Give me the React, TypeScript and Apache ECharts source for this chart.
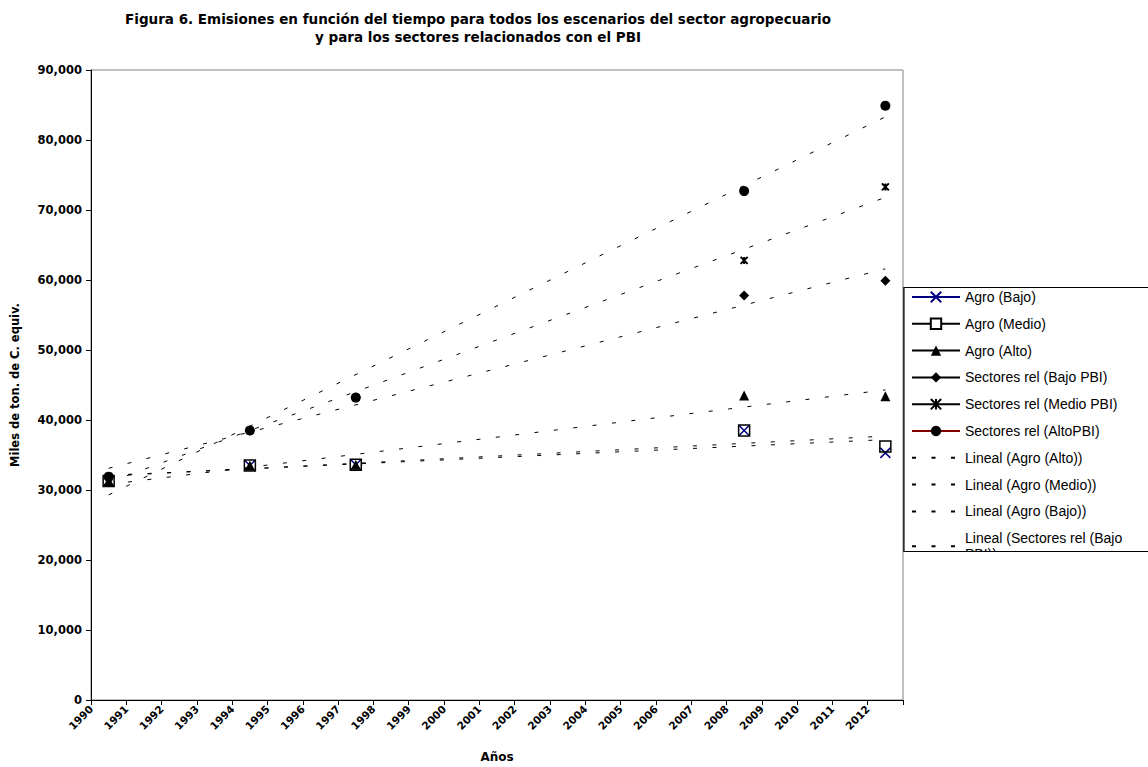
import React, { useEffect, useRef } from "react";
import * as echarts from "echarts";

const yearLabels = [
  "1990", "1991", "1992", "1993", "1994", "1995", "1996", "1997", "1998", "1999", "2000", "2001",
  "2002", "2003", "2004", "2005", "2006", "2007", "2008", "2009", "2010", "2011", "2012",
];

const pointYears = ["1990", "1994", "1997", "2008", "2012"];
const agroBajo = [31300, 33500, 33600, 38500, 35300];
const agroMedio = [31300, 33500, 33600, 38500, 36200];
const agroAlto = [31300, 33500, 33600, 43500, 43400];
const sectoresBajo = [31900, 38500, 43200, 57800, 59900];
const sectoresMedio = [31900, 38500, 43200, 62800, 73300];
const sectoresAlto = [31900, 38500, 43200, 72700, 84900];

const trendYears = ["1990", "2012"];
const trendAgroAlto = [30800, 44300];
const trendAgroMedio = [32000, 37700];
const trendAgroBajo = [32100, 37200];
const trendSectoresBajo = [33100, 61600];
const trendSectoresMedio = [31100, 71800];
const trendSectoresAlto = [29300, 83300];

const yMin = 0;
const yMax = 90000;
const yStep = 10000;

const FONT = "'Liberation Sans', Arial, sans-serif";
const WIDE = "'DejaVu Sans', 'Liberation Sans', sans-serif";

function fullSeries(years: string[], values: number[]) {
  return yearLabels.map((y) => {
    const i = years.indexOf(y);
    return i >= 0 ? values[i] : null;
  });
}

function pairs(years: string[], values: number[]) {
  return years.map((y, i) => [y, values[i]]);
}

const X_PATH = "path://M0,0L10,10M10,0L0,10";
const STAR_PATH = "path://M0,0L10,10M10,0L0,10M5,0L5,10";

export default function App() {
  const ref = useRef<HTMLDivElement>(null);

  useEffect(() => {
    if (!ref.current) return;
    const chart = echarts.init(ref.current, undefined, { renderer: "svg" });

    const markerSeries = (
      name: string,
      values: number[],
      symbol: string,
      size: number,
      itemStyle: any,
      lineColor: string
    ) => ({
      name,
      type: "line",
      data: fullSeries(pointYears, values),
      connectNulls: false,
      symbol,
      symbolSize: size,
      showSymbol: true,
      showAllSymbol: true,
      itemStyle,
      lineStyle: { color: lineColor, width: 1.5 },
      emphasis: { disabled: true },
      z: 3,
    });

    const trendSeries = (name: string, values: number[]) => ({
      name,
      type: "line",
      xAxisIndex: 0,
      data: pairs(trendYears, values),
      symbol: "circle",
      showSymbol: false,
      itemStyle: { color: "rgba(0,0,0,0)", borderWidth: 0 },
      lineStyle: { color: "#000", width: 1, type: [4, 15.5] },
      emphasis: { disabled: true },
      z: 2,
    });

    chart.setOption({
      animation: false,
      backgroundColor: "#fff",
      title: {
        text:
          "Figura 6. Emisiones en función del tiempo para todos los escenarios del sector agropecuario\ny para los sectores relacionados con el PBI",
        left: 473,
        top: 5,
        textAlign: "center",
        textStyle: {
          fontFamily: WIDE,
          fontWeight: "bold",
          fontSize: 13.5,
          lineHeight: 18,
          color: "#000",
        },
      },
      grid: {
        left: 91,
        right: 245,
        top: 70,
        bottom: 67,
        containLabel: false,
        outerBoundsMode: "none",
        show: true,
        borderColor: "#808080",
        borderWidth: 1,
        backgroundColor: "#fff",
      },
      xAxis: [
        {
          type: "category",
          data: yearLabels,
          boundaryGap: true,
          axisLine: { show: true, lineStyle: { color: "#000", width: 1 } },
          axisTick: { show: true, interval: 0, length: 5, lineStyle: { color: "#000" } },
          axisLabel: { show: false },
          splitLine: { show: false },
          name: "Años",
          nameLocation: "middle",
          nameGap: 51,
          nameTextStyle: { fontFamily: WIDE, fontWeight: "bold", fontSize: 12, color: "#000" },
        },
        {
          type: "category",
          position: "bottom",
          data: [...yearLabels, ""],
          boundaryGap: false,
          axisLine: { show: false },
          axisTick: { show: false },
          splitLine: { show: false },
          axisLabel: {
            interval: 0,
            rotate: 45,
            margin: 7,
            fontFamily: WIDE,
            fontWeight: "bold",
            fontSize: 10.5,
            color: "#000",
          },
        },
      ],
      yAxis: {
        type: "value",
        min: yMin,
        max: yMax,
        interval: yStep,
        axisLine: { show: true, lineStyle: { color: "#000", width: 1 } },
        axisTick: { show: true, length: 5, lineStyle: { color: "#000" } },
        splitLine: { show: false },
        axisLabel: {
          margin: 9,
          fontFamily: WIDE,
          fontWeight: "bold",
          fontSize: 11.5,
          color: "#000",
          formatter: (v: number) => v.toLocaleString("en-US"),
        },
        name: "Miles de ton. de C. equiv.",
        nameLocation: "middle",
        nameGap: 70,
        nameRotate: 90,
        nameTextStyle: { fontFamily: WIDE, fontWeight: "bold", fontSize: 11.5, color: "#000" },
      },
      legend: {
        orient: "vertical",
        left: 911,
        top: 289,
        padding: 0,
        itemWidth: 48,
        itemHeight: 13,
        itemGap: 10.8,
        selectedMode: false,
        textStyle: { fontFamily: FONT, fontSize: 14, color: "#000", lineHeight: 16 },
        data: [
          "Agro (Bajo)",
          { name: "Agro (Medio)", itemStyle: { color: "#fff" } },
          "Agro (Alto)",
          "Sectores rel (Bajo PBI)",
          "Sectores rel (Medio PBI)",
          "Sectores rel (AltoPBI)",
          "Lineal (Agro (Alto))",
          "Lineal (Agro (Medio))",
          "Lineal (Agro (Bajo))",
          {
            name: "Lineal (Sectores rel (Bajo PBI))",
            textStyle: { width: 178, overflow: "break" },
          },
        ],
      },
      graphic: [
        {
          type: "rect",
          z: 1,
          shape: { x: 903.5, y: 287.5, width: 300, height: 264 },
          style: { fill: "#fff", stroke: "none" },
        },
        {
          type: "rect",
          z: 10,
          shape: { x: 904, y: 552, width: 300, height: 220 },
          style: { fill: "#fff", stroke: "none" },
        },
        {
          type: "rect",
          z: 11,
          shape: { x: 903.5, y: 287.5, width: 300, height: 264 },
          style: { fill: "none", stroke: "#000", lineWidth: 1 },
        },
        {
          type: "line",
          z: 11,
          shape: { x1: 904, y1: 287.5, x2: 904, y2: 551.5 },
          style: { stroke: "#404040", lineWidth: 1.5 },
        },
      ],
      series: [
        markerSeries("Agro (Bajo)", agroBajo, X_PATH, 10, { color: "#000080", borderColor: "#000080", borderWidth: 1.5 }, "#000080"),
        markerSeries("Agro (Medio)", agroMedio, "rect", 11, { color: "rgba(0,0,0,0)", borderColor: "#000", borderWidth: 1.5 }, "#000"),
        markerSeries("Agro (Alto)", agroAlto, "triangle", 10, { color: "#000", borderWidth: 0 }, "#000"),
        markerSeries("Sectores rel (Bajo PBI)", sectoresBajo, "diamond", 10, { color: "#000", borderWidth: 0 }, "#000"),
        markerSeries("Sectores rel (Medio PBI)", sectoresMedio, STAR_PATH, 7, { color: "#000", borderColor: "#000", borderWidth: 2 }, "#000"),
        markerSeries("Sectores rel (AltoPBI)", sectoresAlto, "circle", 10, { color: "#000", borderWidth: 0 }, "#800000"),
        trendSeries("Lineal (Agro (Alto))", trendAgroAlto),
        trendSeries("Lineal (Agro (Medio))", trendAgroMedio),
        trendSeries("Lineal (Agro (Bajo))", trendAgroBajo),
        trendSeries("Lineal (Sectores rel (Bajo PBI))", trendSectoresBajo),
        trendSeries("Lineal (Sectores rel (Medio PBI))", trendSectoresMedio),
        trendSeries("Lineal (Sectores rel (AltoPBI))", trendSectoresAlto),
      ],
    });

    return () => chart.dispose();
  }, []);

  return (
    <div
      ref={ref}
      style={{ position: "fixed", left: 0, top: 0, width: 1148, height: 767, background: "#fff" }}
    />
  );
}
